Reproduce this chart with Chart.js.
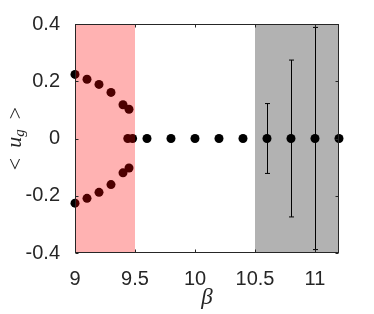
<!DOCTYPE html>
<html>
<head>
<meta charset="utf-8">
<script src="https://cdn.jsdelivr.net/npm/chart.js@4.4.1/dist/chart.umd.min.js"></script>
<style>
  body { margin: 0; background: #fff; }
  #wrap { width: 374px; height: 314px; }
</style>
</head>
<body>
<div id="wrap"><canvas id="c" width="374" height="314"></canvas></div>
<script>
"use strict";

// upper / lower branch (inside the pink window)
const branchX = [9.0, 9.1, 9.2, 9.3, 9.4, 9.45];
const upperY = [0.224, 0.207, 0.189, 0.161, 0.118, 0.102];
const lowerY = [-0.226, -0.209, -0.188, -0.161, -0.120, -0.103];

// zero branch with error bars
const zeroX = [9.44, 9.48, 9.6, 9.8, 10.0, 10.2, 10.4, 10.6, 10.8, 11.0, 11.2];
const zeroY = [0, 0, 0, 0, 0, 0, 0, 0, 0, 0, 0];
const zeroErr = [0, 0, 0, 0, 0, 0, 0, 0.122, 0.274, 0.388, 0];

const xTicks = [9, 9.5, 10, 10.5, 11];
const yTicks = [-0.4, -0.2, 0, 0.2, 0.4];

const pinkBand = [9.0, 9.5];
const grayBand = [10.5, 11.2];

const axisColor = '#262626';

const toPts = (xs, ys) => xs.map((x, i) => ({x: x, y: ys[i]}));

// shaded windows, error bars, box and inward ticks
const decorations = {
  id: 'decorations',
  beforeDatasetsDraw(chart) {
    const {ctx, chartArea: a, scales: {x, y}} = chart;
    ctx.save();
    ctx.fillStyle = 'rgba(0,0,0,0.3)';
    ctx.fillRect(x.getPixelForValue(grayBand[0]), a.top,
      x.getPixelForValue(grayBand[1]) - x.getPixelForValue(grayBand[0]), a.bottom - a.top);

    ctx.strokeStyle = '#000';
    ctx.lineWidth = 1;
    zeroX.forEach((xv, i) => {
      if (!zeroErr[i]) return;
      const px = Math.round(x.getPixelForValue(xv)) + 0.5;
      const top = y.getPixelForValue(zeroY[i] + zeroErr[i]);
      const bot = y.getPixelForValue(zeroY[i] - zeroErr[i]);
      ctx.beginPath();
      ctx.moveTo(px, top); ctx.lineTo(px, bot);
      ctx.moveTo(px - 2.5, top); ctx.lineTo(px + 2.5, top);
      ctx.moveTo(px - 2.5, bot); ctx.lineTo(px + 2.5, bot);
      ctx.stroke();
    });
    ctx.restore();
  },
  afterDatasetsDraw(chart) {
    const {ctx, chartArea: a, scales: {x, y}} = chart;
    ctx.save();
    ctx.fillStyle = 'rgba(255,0,0,0.3)';
    ctx.fillRect(x.getPixelForValue(pinkBand[0]), a.top,
      x.getPixelForValue(pinkBand[1]) - x.getPixelForValue(pinkBand[0]), a.bottom - a.top);

    ctx.strokeStyle = axisColor;
    ctx.lineWidth = 1;
    const L = Math.round(a.left) + 0.5, R = Math.round(a.right) - 0.5;
    const T = Math.round(a.top) + 0.5, B = Math.round(a.bottom) - 0.5;
    ctx.strokeRect(L, T, R - L, B - T);
    ctx.beginPath();
    xTicks.forEach(v => {
      const px = Math.round(x.getPixelForValue(v)) + 0.5;
      ctx.moveTo(px, B); ctx.lineTo(px, B - 3);
      ctx.moveTo(px, T); ctx.lineTo(px, T + 3);
    });
    yTicks.forEach(v => {
      const py = Math.round(y.getPixelForValue(v)) + 0.5;
      ctx.moveTo(L, py); ctx.lineTo(L + 3, py);
      ctx.moveTo(R, py); ctx.lineTo(R - 3, py);
    });
    ctx.stroke();
    ctx.restore();
  },
  afterDraw(chart) {
    const {ctx, chartArea: a} = chart;
    ctx.save();
    ctx.fillStyle = axisColor;
    ctx.textBaseline = 'middle';

    // x label
    ctx.font = 'italic 23px "Liberation Serif"';
    ctx.textAlign = 'center';
    ctx.fillText('β', (a.left + a.right) / 2, 298);

    // y label  < u_g >
    ctx.translate(16, (a.top + a.bottom) / 2);
    ctx.rotate(-Math.PI / 2);
    const big = '22px "Liberation Serif"';
    const ital = 'italic 22px "Liberation Serif"';
    const sub = 'italic 15px "Liberation Serif"';
    ctx.font = big; const wl = ctx.measureText('<').width;
    ctx.font = ital; const wu = ctx.measureText('u').width;
    ctx.font = sub; const wg = ctx.measureText('g').width;
    const gap = 10;
    const total = wl * 2 + wu + wg + gap * 2;
    let cx = -total / 2;
    ctx.textAlign = 'left';
    ctx.font = big; ctx.fillText('<', cx, 0); cx += wl + gap;
    ctx.font = ital; ctx.fillText('u', cx, -1); cx += wu;
    ctx.font = sub; ctx.fillText('g', cx, 4); cx += wg + gap;
    ctx.font = big; ctx.fillText('>', cx, 0);
    ctx.restore();
  }
};

const dot = {
  showLine: false,
  clip: false,
  pointRadius: 4.5,
  pointHoverRadius: 4.5,
  pointBackgroundColor: '#000',
  pointBorderWidth: 0,
  borderColor: '#000'
};

new Chart(document.getElementById('c'), {
  type: 'scatter',
  data: {
    datasets: [
      Object.assign({label: 'upper', data: toPts(branchX, upperY)}, dot),
      Object.assign({label: 'lower', data: toPts(branchX, lowerY)}, dot),
      Object.assign({label: 'zero', data: toPts(zeroX, zeroY)}, dot)
    ]
  },
  options: {
    responsive: false,
    animation: false,
    layout: {padding: {left: 0, top: 24, right: 35, bottom: 0}},
    plugins: {legend: {display: false}, tooltip: {enabled: false}},
    scales: {
      x: {
        type: 'linear',
        min: 9, max: 11.2,
        afterBuildTicks: (s) => { s.ticks = xTicks.map(v => ({value: v})); },
        afterFit: (s) => { s.height = 61; },
        grid: {display: false},
        border: {display: false},
        ticks: {
          color: axisColor, padding: 6,
          font: {family: '"Liberation Sans"', size: 20},
          callback: (v) => String(v)
        }
      },
      y: {
        type: 'linear',
        min: -0.4, max: 0.4,
        afterBuildTicks: (s) => { s.ticks = yTicks.map(v => ({value: v})); },
        afterFit: (s) => { s.width = 75; },
        grid: {display: false},
        border: {display: false},
        ticks: {
          color: axisColor, padding: 7,
          font: {family: '"Liberation Sans"', size: 20},
          callback: (v) => String(Math.round(v * 10) / 10)
        }
      }
    }
  },
  plugins: [decorations]
});
</script>
</body>
</html>
